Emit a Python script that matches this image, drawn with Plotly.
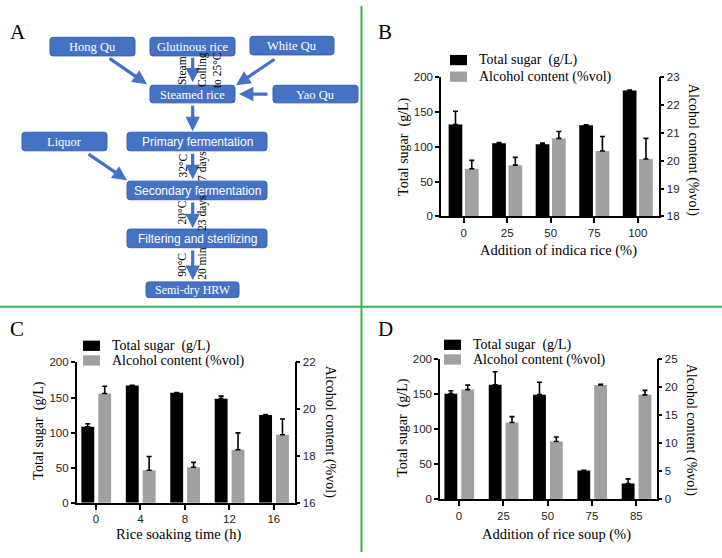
import plotly.graph_objects as go

W, H = 722, 558

# ---------------- data ----------------
b_cats = ["0", "25", "50", "75", "100"]
b_sugar = [131.8, 105.1, 103.7, 130.8, 180.8]
b_sugar_err = [19.1, 1.0, 1.5, 0.6, 0.5]
b_alc = [19.71, 19.84, 20.80, 20.35, 20.06]
b_alc_err = [0.30, 0.28, 0.25, 0.52, 0.74]

c_cats = ["0", "4", "8", "12", "16"]
c_sugar = [108.4, 167.0, 156.7, 148.4, 125.1]
c_sugar_err = [4.2, 0.6, 0.3, 3.7, 0.8]
c_alc = [20.67, 17.39, 17.52, 18.27, 18.91]
c_alc_err = [0.31, 0.59, 0.21, 0.72, 0.67]

d_cats = ["0", "25", "50", "75", "85"]
d_sugar = [150.5, 163.1, 149.1, 41.0, 22.4]
d_sugar_err = [4.2, 18.6, 17.7, 0.3, 6.5]
d_alc = [19.53, 13.66, 10.29, 20.35, 18.6]
d_alc_err = [0.8, 1.05, 0.8, 0.15, 0.8]

sugar_name = "Total sugar\u00a0\u00a0(g/L)"
alc_name = "Alcohol content (%vol)"

# ---------------- helpers ----------------
def X(p):
    return p / W

def Y(p):
    return 1 - p / H

SERIF = "Liberation Serif, Times New Roman, serif"
SANS = "Liberation Sans, Arial, sans-serif"
BLUE = "#4472C4"
BLUE_EDGE = "#3A62AE"
GREEN = "#34B450"
BLACK = "#000000"
GRAY = "#A0A0A0"

fig = go.Figure()
shapes = []
annotations = []

# ---------------- bar panels ----------------
panels = [
    dict(cats=b_cats, s=b_sugar, se=b_sugar_err, a=b_alc, ae=b_alc_err,
         xa="x", ya="y", ya2="y2", bo=-0.345, go_=0.03, w=0.315),
    dict(cats=c_cats, s=c_sugar, se=c_sugar_err, a=c_alc, ae=c_alc_err,
         xa="x2", ya="y3", ya2="y4", bo=-0.33, go_=0.05, w=0.29),
    dict(cats=d_cats, s=d_sugar, se=d_sugar_err, a=d_alc, ae=d_alc_err,
         xa="x3", ya="y5", ya2="y6", bo=-0.33, go_=0.05, w=0.29),
]
for p in panels:
    fig.add_trace(go.Bar(
        x=p["cats"], y=p["s"], name=sugar_name, xaxis=p["xa"], yaxis=p["ya"],
        marker=dict(color=BLACK, line=dict(width=0)), offset=p["bo"], width=p["w"],
        error_y=dict(type="data", array=p["se"], arrayminus=[0] * 5, symmetric=False,
                     color=BLACK, thickness=1.6, width=2.5),
        showlegend=False))
    fig.add_trace(go.Bar(
        x=p["cats"], y=p["a"], name=alc_name, xaxis=p["xa"], yaxis=p["ya2"],
        marker=dict(color=GRAY, line=dict(width=0)), offset=p["go_"], width=p["w"],
        error_y=dict(type="data", array=p["ae"], arrayminus=[0] * 5, symmetric=False,
                     color=BLACK, thickness=1.6, width=2.5),
        showlegend=False))

tickfont = dict(family=SANS, size=11.5, color="#222222")

def xax(domain, rng, anchor):
    return dict(domain=domain, range=rng, type="category", anchor=anchor,
                showline=True, linecolor=BLACK, linewidth=1.5, ticks="outside",
                ticklen=5, tickwidth=1.5, tickcolor=BLACK, showgrid=False,
                zeroline=False, tickfont=tickfont, fixedrange=True)

def yax(domain, rng, dtick, anchor, side="left", overlaying=None):
    d = dict(domain=domain, range=rng, dtick=dtick, tick0=rng[0], anchor=anchor,
             side=side, showline=True, linecolor=BLACK, linewidth=1.5,
             ticks="outside", ticklen=4, tickwidth=1.5, tickcolor=BLACK,
             showgrid=False, zeroline=False, tickfont=tickfont, fixedrange=True)
    if overlaying:
        d["overlaying"] = overlaying
    return d

# pixel geometry of the three plot areas
B = dict(l=441, r=658.7, t=72.7, b=215)
C = dict(l=76.7, r=294.7, t=364.3, b=507.7)
D = dict(l=440, r=656.7, t=360.7, b=504)

def dom_x(g):
    return [X(g["l"]), X(g["r"])]

def dom_y(g):
    return [Y(g["b"]), Y(g["t"])]

layout_axes = dict(
    xaxis=xax(dom_x(B), [-0.52, 4.48], "y"),
    yaxis=yax(dom_y(B), [0, 200], 50, "x"),
    yaxis2=yax(dom_y(B), [18, 23], 1, "x", side="right", overlaying="y"),
    xaxis2=xax(dom_x(C), [-0.435, 4.47], "y3"),
    yaxis3=yax(dom_y(C), [0, 200], 50, "x2"),
    yaxis4=yax(dom_y(C), [16, 22], 2, "x2", side="right", overlaying="y3"),
    xaxis3=xax(dom_x(D), [-0.43, 4.46], "y5"),
    yaxis5=yax(dom_y(D), [0, 200], 50, "x3"),
    yaxis6=yax(dom_y(D), [0, 25], 5, "x3", side="right", overlaying="y5"),
)

def text(x, y, t, size, family=SERIF, color=BLACK, angle=0, xanchor="center",
         yanchor="middle", align="center"):
    annotations.append(dict(x=X(x), y=Y(y), xref="paper", yref="paper", text=t,
                            showarrow=False, textangle=angle, xanchor=xanchor,
                            yanchor=yanchor, align=align,
                            font=dict(family=family, size=size, color=color)))

# axis titles, legends, panel letters
panel_txt = [
    dict(letter="B", lp=(385, 27), lt=(404, 144), rt=(693, 147), xt=(558, 250),
         xtitle="Addition of indica rice (%)", leg=(450, 50, 67)),
    dict(letter="C", lp=(17, 330), lt=(39, 434), rt=(330, 435), xt=(178, 540),
         xtitle="Rice soaking time (h)", leg=(83, 342, 357)),
    dict(letter="D", lp=(385, 330), lt=(403, 431), rt=(691, 433), xt=(556, 540),
         xtitle="Addition of rice soup (%)", leg=(444, 341, 356)),
]
for p in panel_txt:
    text(p["lp"][0], p["lp"][1], p["letter"], 21)
    text(p["lt"][0], p["lt"][1], sugar_name, 14, angle=-90)
    text(p["rt"][0], p["rt"][1], alc_name, 14, angle=90)
    text(p["xt"][0], p["xt"][1], p["xtitle"], 14.5)
    lx, ly1, ly2 = p["leg"]
    for yy, col, lab in [(ly1, BLACK, sugar_name), (ly2, GRAY, alc_name)]:
        shapes.append(dict(type="rect", xref="paper", yref="paper",
                           x0=X(lx), x1=X(lx + 17), y0=Y(yy), y1=Y(yy + 10.5),
                           fillcolor=col, line=dict(width=0)))
        text(lx + 27, yy + 5.5, lab, 14, xanchor="left")

# ---------------- panel A: flowchart ----------------
text(18, 27, "A", 21)

def rrect(x0, y0, x1, y1, r=3):
    return (f"M {X(x0 + r)},{Y(y0)} L {X(x1 - r)},{Y(y0)} Q {X(x1)},{Y(y0)} {X(x1)},{Y(y0 + r)} "
            f"L {X(x1)},{Y(y1 - r)} Q {X(x1)},{Y(y1)} {X(x1 - r)},{Y(y1)} "
            f"L {X(x0 + r)},{Y(y1)} Q {X(x0)},{Y(y1)} {X(x0)},{Y(y1 - r)} "
            f"L {X(x0)},{Y(y0 + r)} Q {X(x0)},{Y(y0)} {X(x0 + r)},{Y(y0)} Z")

boxes = [
    ("Hong Qu", 50, 32, 135, 51, SERIF, 12.5),
    ("Glutinous rice", 150, 32, 235, 51, SERIF, 12.5),
    ("White Qu", 250, 31, 334, 50, SERIF, 12.5),
    ("Steamed rice", 150, 81, 235, 99, SERIF, 12.5),
    ("Yao Qu", 273, 81, 358, 99, SERIF, 12.5),
    ("Liquor", 22, 129, 107, 148, SERIF, 12.5),
    ("Primary fermentation", 127, 129, 267, 148, SANS, 12),
    ("Secondary fermentation", 127, 179, 267, 198, SANS, 12),
    ("Filtering and sterilizing", 127, 228, 267, 247, SANS, 12),
    ("Semi-dry HRW", 146, 282, 239, 298, SERIF, 12),
]
for lab, x0, y0, x1, y1, fam, fs in boxes:
    shapes.append(dict(type="path", xref="paper", yref="paper", path=rrect(x0, y0, x1, y1),
                       fillcolor=BLUE, line=dict(color=BLUE_EDGE, width=1)))
    text((x0 + x1) / 2, (y0 + y1) / 2 + 0.5, lab, fs, family=fam, color="white")

arrows = [  # tail (x, y) -> head (x, y) in pixels
    (108, 53, 147, 80),
    (276, 54, 236, 81),
    (192.7, 52, 192.7, 78),
    (269, 90, 239, 90),
    (192.7, 101, 192.7, 128),
    (87, 151, 127, 178),
    (192.7, 150, 192.7, 177),
    (192.7, 200, 192.7, 227),
    (192.7, 249, 192.7, 280),
]
for tx, ty, hx, hy in arrows:
    annotations.append(dict(x=X(hx), y=Y(hy), xref="paper", yref="paper",
                            ax=tx - hx, ay=ty - hy, axref="pixel", ayref="pixel",
                            text="", showarrow=True, arrowhead=2, arrowsize=0.9,
                            arrowwidth=3.2, arrowcolor=BLUE, standoff=0, startstandoff=0))

step_labels = [
    (182, 65.5, "Steam"),
    (209.5, 66, "Colling<br>to 25°C"),
    (183, 163, "32°C"),
    (202.5, 164, "7 days"),
    (182, 211, "20°C"),
    (202.5, 212, "23 days"),
    (182, 264.5, "90°C"),
    (202.5, 263, "20 min"),
]
for x, y, t in step_labels:
    text(x, y, t, 11.5, angle=-90, align="right")

# ---------------- green dividers ----------------
shapes.append(dict(type="line", xref="paper", yref="paper", x0=X(361.5), x1=X(361.5),
                   y0=0, y1=1, line=dict(color=GREEN, width=2)))
shapes.append(dict(type="line", xref="paper", yref="paper", x0=0, x1=1,
                   y0=Y(307.3), y1=Y(307.3), line=dict(color=GREEN, width=2)))

fig.update_layout(
    width=W, height=H, margin=dict(l=0, r=0, t=0, b=0),
    paper_bgcolor="white", plot_bgcolor="white",
    barmode="overlay", showlegend=False,
    shapes=shapes, annotations=annotations,
    **layout_axes,
)

# keep the figure flush with the page and make it fill the actual viewport
post = (
    "document.documentElement.style.margin='0';"
    "document.documentElement.style.overflow='hidden';"
    "document.body.style.margin='0';document.body.style.padding='0';"
    "document.body.style.overflow='hidden';"
    "var gd=document.getElementById('{plot_id}');"
    "if(gd){gd.style.position='fixed';gd.style.left='0px';gd.style.top='0px';"
    "var vw=window.innerWidth,vh=window.innerHeight;"
    "if(vw>0&&vh>0&&(Math.abs(vh-558)>1||Math.abs(vw-722)>1)){"
    "gd.style.width=vw+'px';gd.style.height=vh+'px';"
    "Plotly.relayout(gd,{width:vw,height:vh});}}"
)
fig.write_html("out.html", config={"displayModeBar": False}, post_script=post)
